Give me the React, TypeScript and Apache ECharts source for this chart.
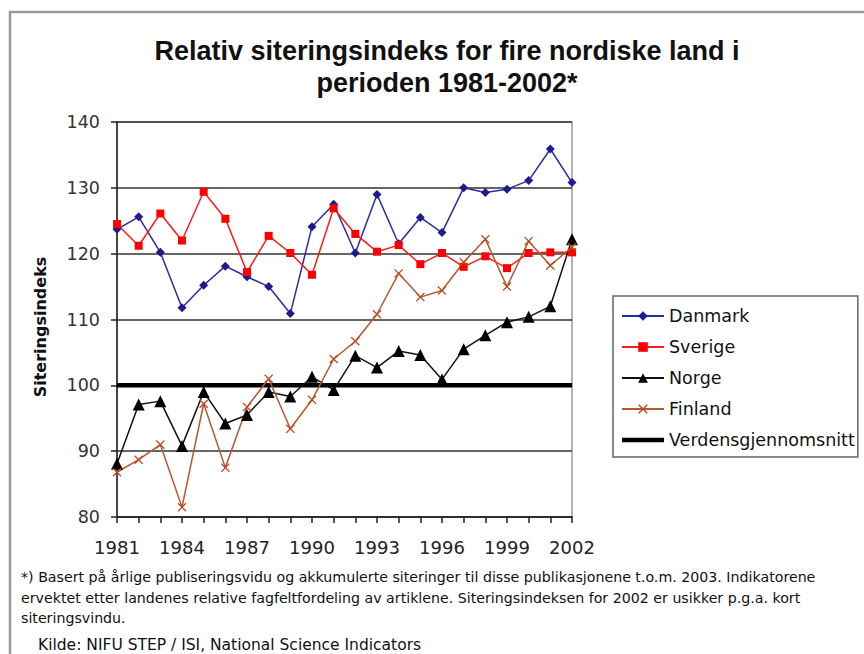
import React, { useEffect, useRef } from "react";
import * as echarts from "echarts";

const years = ["1981","1982","1983","1984","1985","1986","1987","1988","1989","1990","1991","1992","1993","1994","1995","1996","1997","1998","1999","2000","2001","2002"];
const danmark = [123.7,125.6,120.2,111.8,115.2,118.1,116.5,115.0,110.9,124.1,127.5,120.1,129.0,121.5,125.5,123.2,130.0,129.3,129.8,131.1,135.9,130.8];
const sverige = [124.5,121.2,126.1,122.0,129.4,125.3,117.2,122.7,120.1,116.8,126.9,123.0,120.3,121.3,118.4,120.1,118.0,119.6,117.8,120.1,120.2,120.2];
const norge = [88.1,97.1,97.6,90.8,99.0,94.2,95.5,99.0,98.3,101.3,99.3,104.5,102.7,105.2,104.6,100.9,105.5,107.6,109.6,110.4,112.0,122.2];
const finland = [86.8,88.7,91.0,81.5,97.2,87.5,96.7,101.0,93.4,97.8,104.0,106.7,110.8,117.0,113.4,114.4,118.7,122.2,115.0,121.9,118.2,121.0];
const verden = years.map(() => 100);
const yTicks = [80, 90, 100, 110, 120, 130, 140];
const xLabelYears = ["1981","1984","1987","1990","1993","1996","1999","2002"];

const titleLines = ["Relativ siteringsindeks for fire nordiske land i", "perioden 1981-2002*"];
const yAxisName = "Siteringsindeks";
const footLines = [
  "*) Basert på årlige publiseringsvidu og akkumulerte siteringer til disse publikasjonene t.o.m. 2003. Indikatorene",
  "ervektet etter landenes relative fagfeltfordeling av artiklene. Siteringsindeksen for 2002 er usikker p.g.a. kort",
  "siteringsvindu.",
];
const sourceLine = "Kilde: NIFU STEP / ISI, National Science Indicators";

const FONT = "'Liberation Sans', Arial, sans-serif";
const WFONT = "'DejaVu Sans', sans-serif";
const crossPath = "path://M0,1L1,0L5,4L9,0L10,1L6,5L10,9L9,10L5,6L1,10L0,9L4,5Z";
const thickLineIcon = "path://M0,0H42V4.5H0Z";

export default function App() {
  const ref = useRef<HTMLDivElement>(null);
  useEffect(() => {
    document.body.style.margin = "0";
    const chart = echarts.init(ref.current!, null, { renderer: "svg" });
    chart.setOption({
      animation: false,
      backgroundColor: "#ffffff",
      textStyle: { fontFamily: WFONT },
      grid: { left: 117, top: 122, width: 455, height: 395, show: true, borderColor: "#9a9a9a", borderWidth: 1.5, backgroundColor: "transparent" },
      title: [
        { text: titleLines.join("\n"), left: 442, top: 30, textAlign: "center", textStyle: { fontFamily: FONT, fontSize: 27, fontWeight: "bold", color: "#111", lineHeight: 32 } },
      ],
      legend: {
        orient: "vertical",
        left: 613,
        top: 296,
        backgroundColor: "#fff",
        borderColor: "#666",
        borderWidth: 1.5,
        borderRadius: 0,
        padding: [11, 3, 8, 8],
        itemWidth: 42,
        itemHeight: 12,
        itemGap: 13,
        textStyle: { fontFamily: WFONT, fontSize: 17.5, color: "#111" },
        data: [
          "Danmark", "Sverige", "Norge", "Finland",
          { name: "Verdensgjennomsnitt", icon: thickLineIcon, itemStyle: { color: "#000" } },
        ],
      },
      xAxis: {
        type: "category",
        data: years,
        boundaryGap: false,
        axisLine: { lineStyle: { color: "#222", width: 1.5 } },
        axisTick: { show: true, inside: false, length: 6, interval: 0, lineStyle: { color: "#222", width: 1.5 } },
        axisLabel: {
          interval: 0,
          margin: 21,
          fontFamily: WFONT,
          fontSize: 18,
          color: "#222",
          formatter: (v: string) => (xLabelYears.includes(v) ? v : ""),
        },
        splitLine: { show: false },
      },
      yAxis: {
        type: "value",
        min: yTicks[0],
        max: yTicks[yTicks.length - 1],
        interval: 10,
        axisLine: { show: true, lineStyle: { color: "#222", width: 1.5 } },
        axisTick: { show: true, inside: false, length: 6, lineStyle: { color: "#222", width: 1.5 } },
        axisLabel: { margin: 17, fontFamily: WFONT, fontSize: 17.5, color: "#333" },
        splitLine: { show: true, lineStyle: { color: "#333", width: 1.5 } },
      },
      series: [
        {
          name: "Verdensgjennomsnitt", type: "line", data: verden, symbol: "none", z: 3,
          lineStyle: { color: "#000", width: 4.5 }, itemStyle: { color: "#000" },
        },
        {
          name: "Danmark", type: "line", data: danmark, symbol: "diamond", symbolSize: 9, z: 5,
          lineStyle: { color: "#2b2ba6", width: 1.5 }, itemStyle: { color: "#1c1c8c" },
        },
        {
          name: "Sverige", type: "line", data: sverige, symbol: "rect", symbolSize: 8, z: 5,
          lineStyle: { color: "#ff1a1a", width: 1.5 }, itemStyle: { color: "#ff0000" },
        },
        {
          name: "Norge", type: "line", data: norge, symbol: "triangle", symbolSize: 12, z: 5,
          lineStyle: { color: "#111", width: 1.5 }, itemStyle: { color: "#000" },
        },
        {
          name: "Finland", type: "line", data: finland, symbol: crossPath, symbolSize: 9, z: 5,
          lineStyle: { color: "#b8562e", width: 1.5 }, itemStyle: { color: "#b84a22" },
        },
      ],
      graphic: [
        { type: "rect", shape: { x: 10, y: 12, width: 900, height: 700 }, style: { fill: "none", stroke: "#999", lineWidth: 2.5 }, silent: true, z: -1 },
        {
          type: "text", x: 40, y: 327, rotation: Math.PI / 2,
          style: { text: yAxisName, fontFamily: WFONT, fontSize: 16, fontWeight: "bold", fill: "#111", align: "center", verticalAlign: "middle" },
        },
        ...footLines.map((t, i) => ({
          type: "text", x: 21, y: 577 + i * 20.5,
          style: { text: t, fontFamily: WFONT, fontSize: 14.2, fill: "#111", align: "left", verticalAlign: "middle" },
        })),
        { type: "text", x: 38, y: 645, style: { text: sourceLine, fontFamily: WFONT, fontSize: 15.5, fill: "#111", align: "left", verticalAlign: "middle" } },
      ],
    });
    return () => chart.dispose();
  }, []);
  return <div ref={ref} style={{ position: "absolute", left: 0, top: 0, width: 864, height: 654 }} />;
}
